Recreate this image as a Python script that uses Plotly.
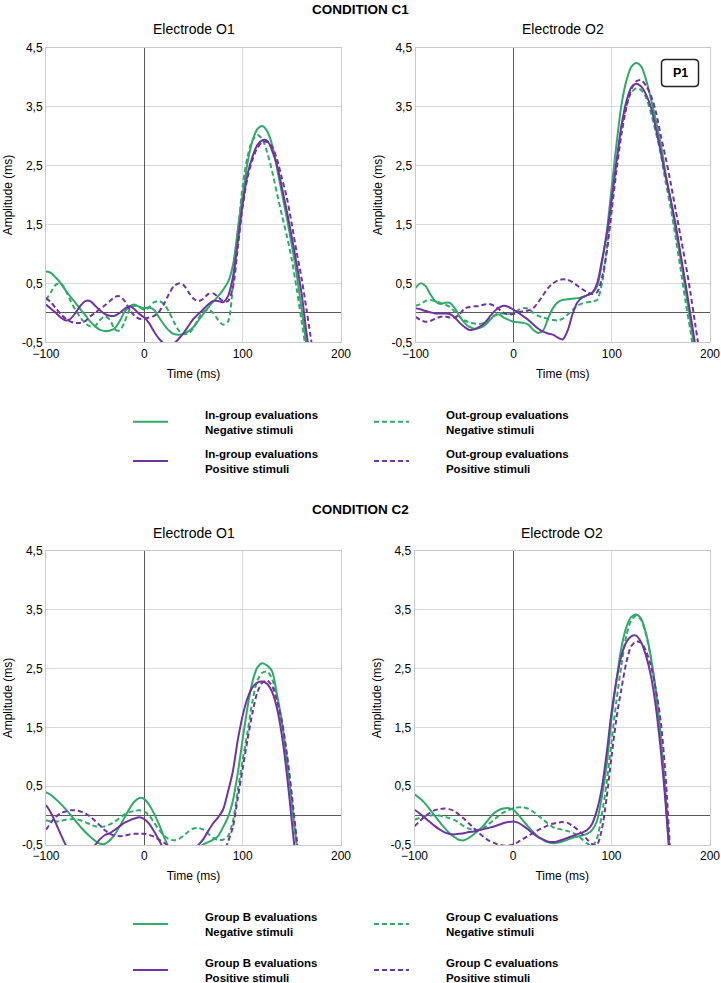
import plotly.graph_objects as go

# ---------------- data ----------------
T_C1_O1 = list(range(-100, 175, 5))
T_C1_O2 = list(range(-100, 195, 5))
T_C2_O1 = list(range(-100, 165, 5))
T_C2_O2 = list(range(-100, 170, 5))

C1_O1_in_neg = [0.70, 0.68, 0.60, 0.50, 0.38, 0.27, 0.17, 0.06, -0.04, -0.15,
                -0.23, -0.29, -0.31, -0.30, -0.26, -0.14, 0.02, 0.11, 0.14, 0.10,
                0.08, 0.09, 0.05, -0.08, -0.20, -0.30, -0.36, -0.37, -0.36, -0.31,
                -0.24, -0.13, -0.02, 0.09, 0.19, 0.28, 0.39, 0.52, 0.80, 1.40,
                2.00, 2.55, 2.92, 3.12, 3.17, 3.08, 2.85, 2.45, 2.02, 1.60,
                1.15, 0.65, 0.05, -0.55, -1.10]
C1_O1_out_neg = [0.22, 0.35, 0.48, 0.50, 0.38, 0.20, 0.05, -0.08, -0.18, -0.23,
                 -0.22, -0.12, -0.06, -0.12, -0.28, -0.30, -0.15, 0.05, 0.12, 0.10,
                 0.05, 0.10, 0.18, 0.20, 0.15, 0.02, -0.15, -0.30, -0.36, -0.35,
                 -0.25, -0.10, 0.02, 0.05, 0.00, -0.12, -0.20, -0.15, 0.45, 1.35,
                 2.15, 2.65, 2.93, 3.02, 2.95, 2.72, 2.40, 2.02, 1.65, 1.30,
                 0.90, 0.40, -0.15, -0.70, -1.20]
C1_O1_in_pos = [0.14, 0.07, 0.00, -0.08, -0.13, -0.10, 0.00, 0.12, 0.20, 0.20,
                0.12, 0.04, -0.02, -0.05, -0.05, 0.00, 0.07, 0.11, 0.06, -0.02,
                -0.08, -0.18, -0.32, -0.44, -0.52, -0.55, -0.52, -0.44, -0.34, -0.22,
                -0.10, -0.02, 0.06, 0.14, 0.20, 0.20, 0.18, 0.28, 0.60, 1.20,
                1.85, 2.35, 2.65, 2.85, 2.93, 2.92, 2.75, 2.50, 2.12, 1.72,
                1.28, 0.82, 0.32, -0.35, -0.90]
C1_O1_out_pos = [0.25, 0.18, 0.08, -0.02, -0.10, -0.15, -0.17, -0.17, -0.14, -0.06,
                 0.00, 0.07, 0.13, 0.20, 0.27, 0.28, 0.20, 0.06, -0.05, -0.10,
                 -0.10, -0.08, -0.05, 0.02, 0.15, 0.32, 0.45, 0.50, 0.47, 0.35,
                 0.24, 0.20, 0.24, 0.32, 0.33, 0.27, 0.20, 0.20, 0.42, 1.10,
                 1.80, 2.30, 2.60, 2.80, 2.90, 2.90, 2.82, 2.60, 2.28, 1.95,
                 1.50, 1.02, 0.58, 0.05, -0.50]

C1_O2_in_neg = [0.42, 0.50, 0.46, 0.32, 0.20, 0.15, 0.17, 0.17, 0.08, -0.06,
                -0.17, -0.24, -0.27, -0.26, -0.22, -0.14, -0.05, -0.03, -0.08, -0.12,
                -0.15, -0.16, -0.17, -0.20, -0.29, -0.34, -0.30, -0.10, 0.08, 0.18,
                0.22, 0.23, 0.24, 0.25, 0.27, 0.30, 0.34, 0.45, 0.85, 1.40,
                2.15, 2.90, 3.55, 3.95, 4.18, 4.24, 4.18, 3.95, 3.62, 3.25,
                2.85, 2.35, 1.90, 1.40, 0.92, 0.40, -0.15, -0.70, -1.25]
C1_O2_out_neg = [0.12, 0.15, 0.20, 0.22, 0.20, 0.17, 0.14, 0.10, 0.02, -0.07,
                 -0.13, -0.16, -0.18, -0.19, -0.17, -0.12, -0.05, -0.01, -0.01, -0.02,
                 0.00, 0.05, 0.08, 0.07, 0.00, -0.05, -0.08, -0.10, -0.12, -0.13,
                 -0.10, -0.03, 0.05, 0.12, 0.16, 0.18, 0.19, 0.22, 0.50, 1.10,
                 1.90, 2.60, 3.15, 3.52, 3.74, 3.81, 3.78, 3.65, 3.38, 3.05,
                 2.68, 2.20, 1.78, 1.28, 0.75, 0.20, -0.30, -0.85, -1.40]
C1_O2_in_pos = [0.08, 0.06, 0.03, 0.01, -0.01, -0.01, -0.01, -0.02, -0.08, -0.17,
                -0.24, -0.29, -0.28, -0.24, -0.18, -0.08, 0.02, 0.09, 0.12, 0.10,
                0.05, 0.00, -0.06, -0.12, -0.20, -0.27, -0.32, -0.35, -0.37, -0.42,
                -0.45, -0.30, -0.02, 0.18, 0.26, 0.30, 0.34, 0.50, 0.90, 1.35,
                1.95, 2.60, 3.20, 3.60, 3.83, 3.89, 3.84, 3.70, 3.48, 3.12,
                2.72, 2.30, 1.92, 1.50, 1.00, 0.50, -0.02, -0.55, -1.10]
C1_O2_out_pos = [-0.07, -0.12, -0.15, -0.14, -0.10, -0.07, -0.06, -0.08, -0.08, -0.02,
                 0.07, 0.10, 0.11, 0.12, 0.14, 0.15, 0.12, 0.06, 0.00, -0.03,
                 -0.02, 0.01, 0.03, 0.04, 0.08, 0.18, 0.30, 0.42, 0.50, 0.55,
                 0.57, 0.56, 0.52, 0.46, 0.40, 0.35, 0.32, 0.35, 0.60, 1.05,
                 1.75, 2.45, 3.05, 3.50, 3.80, 3.93, 3.95, 3.85, 3.68, 3.40,
                 3.00, 2.62, 2.20, 1.75, 1.30, 0.85, 0.35, -0.20, -0.75]

C2_O1_in_neg = [0.40, 0.35, 0.28, 0.20, 0.11, 0.01, -0.09, -0.19, -0.28, -0.36,
                -0.43, -0.48, -0.48, -0.42, -0.32, -0.18, -0.03, 0.12, 0.24, 0.30,
                0.28, 0.18, 0.03, -0.15, -0.36, -0.55, -0.68, -0.75, -0.77, -0.74,
                -0.66, -0.56, -0.49, -0.45, -0.41, -0.35, -0.20, -0.03, 0.25, 0.72,
                1.30, 1.85, 2.28, 2.52, 2.59, 2.55, 2.45, 2.05, 1.58, 0.95,
                0.20, -0.50, -1.20]
C2_O1_out_neg = [-0.08, -0.10, -0.10, -0.09, -0.07, -0.06, -0.06, -0.08, -0.11, -0.15,
                 -0.18, -0.19, -0.18, -0.15, -0.10, -0.04, 0.02, 0.06, 0.08, 0.09,
                 0.07, 0.00, -0.12, -0.24, -0.34, -0.40, -0.42, -0.40, -0.34, -0.27,
                 -0.22, -0.21, -0.24, -0.31, -0.38, -0.41, -0.41, -0.35, -0.10, 0.42,
                 0.95, 1.42, 1.95, 2.30, 2.43, 2.45, 2.32, 2.00, 1.55, 1.00,
                 0.30, -0.55, -1.30]
C2_O1_in_pos = [0.18, 0.05, -0.13, -0.32, -0.50, -0.65, -0.75, -0.78, -0.74, -0.64,
                -0.50, -0.40, -0.33, -0.30, -0.24, -0.18, -0.12, -0.08, -0.05, -0.03,
                -0.06, -0.14, -0.27, -0.42, -0.58, -0.70, -0.78, -0.80, -0.76, -0.68,
                -0.58, -0.50, -0.40, -0.26, -0.13, -0.03, 0.10, 0.40, 0.75, 1.28,
                1.70, 2.00, 2.18, 2.26, 2.28, 2.24, 2.10, 1.82, 1.35, 0.70,
                -0.10, -0.90, -1.60]
C2_O1_out_pos = [-0.24, -0.12, -0.02, 0.04, 0.07, 0.09, 0.09, 0.07, 0.04, -0.02,
                 -0.09, -0.17, -0.25, -0.31, -0.34, -0.35, -0.34, -0.32, -0.31, -0.31,
                 -0.31, -0.33, -0.36, -0.41, -0.46, -0.52, -0.58, -0.62, -0.65, -0.66,
                 -0.66, -0.66, -0.67, -0.70, -0.72, -0.72, -0.68, -0.45, -0.20, 0.30,
                 0.80, 1.30, 1.75, 2.10, 2.26, 2.30, 2.20, 1.95, 1.60, 1.05,
                 0.35, -0.40, -1.10]

C2_O2_in_neg = [0.36, 0.30, 0.22, 0.12, 0.01, -0.10, -0.20, -0.29, -0.36, -0.41,
                -0.42, -0.38, -0.32, -0.25, -0.17, -0.07, 0.03, 0.09, 0.12, 0.13,
                0.10, 0.02, -0.08, -0.18, -0.27, -0.35, -0.41, -0.45, -0.47, -0.46,
                -0.44, -0.41, -0.38, -0.36, -0.34, -0.31, -0.25, -0.10, 0.30, 0.85,
                1.65, 2.30, 2.85, 3.20, 3.38, 3.42, 3.35, 3.10, 2.70, 2.10,
                1.30, 0.25, -0.90, -1.80]
C2_O2_out_neg = [-0.07, -0.04, -0.01, 0.00, 0.01, 0.00, -0.02, -0.04, -0.07, -0.12,
                 -0.18, -0.22, -0.24, -0.24, -0.21, -0.15, -0.08, -0.01, 0.05, 0.09,
                 0.12, 0.14, 0.14, 0.12, 0.07, 0.01, -0.06, -0.13, -0.19, -0.22,
                 -0.24, -0.26, -0.29, -0.33, -0.40, -0.47, -0.52, -0.40, 0.00, 0.55,
                 1.25, 1.95, 2.55, 3.05, 3.32, 3.40, 3.33, 3.08, 2.68, 2.12,
                 1.35, 0.35, -0.80, -1.70]
C2_O2_in_pos = [0.10, 0.04, -0.03, -0.10, -0.17, -0.23, -0.28, -0.31, -0.32, -0.31,
                -0.30, -0.28, -0.27, -0.25, -0.23, -0.21, -0.19, -0.16, -0.13, -0.11,
                -0.10, -0.12, -0.17, -0.23, -0.30, -0.36, -0.40, -0.44, -0.45, -0.44,
                -0.41, -0.38, -0.35, -0.32, -0.29, -0.25, -0.15, 0.08, 0.45, 1.05,
                1.75, 2.30, 2.72, 2.95, 3.05, 3.06, 2.95, 2.72, 2.38, 1.85,
                1.12, 0.20, -0.90, -1.80]
C2_O2_out_pos = [-0.18, -0.10, -0.02, 0.04, 0.09, 0.11, 0.12, 0.11, 0.08, 0.02,
                 -0.05, -0.13, -0.21, -0.29, -0.36, -0.42, -0.46, -0.49, -0.51, -0.51,
                 -0.49, -0.45, -0.40, -0.35, -0.30, -0.25, -0.21, -0.17, -0.14, -0.12,
                 -0.11, -0.12, -0.17, -0.23, -0.31, -0.40, -0.48, -0.50, -0.25, 0.30,
                 1.00, 1.65, 2.15, 2.60, 2.88, 2.96, 2.94, 2.80, 2.55, 2.15,
                 1.60, 0.65, -0.70, -1.60]

NAMES_C1 = [("In-group evaluations", "Negative stimuli"),
            ("Out-group evaluations", "Negative stimuli"),
            ("In-group evaluations", "Positive stimuli"),
            ("Out-group evaluations", "Positive stimuli")]
NAMES_C2 = [("Group B evaluations", "Negative stimuli"),
            ("Group C evaluations", "Negative stimuli"),
            ("Group B evaluations", "Positive stimuli"),
            ("Group C evaluations", "Positive stimuli")]

X_TICKS = [-100, 0, 100, 200]
Y_TICKS = [-0.5, 0.5, 1.5, 2.5, 3.5, 4.5]
Y_TICK_LABELS = ["-0,5", "0,5", "1,5", "2,5", "3,5", "4,5"]

# ---------------- style ----------------
W, H = 721, 983
GREEN = "#2eab66"
PURPLE = "#7133a3"
FONT = "Arial, Liberation Sans, sans-serif"
STYLES = [(GREEN, "solid"), (GREEN, "5px,3px"), (PURPLE, "solid"), (PURPLE, "5px,3px")]
PAD = "&nbsp;" * 10


def px_x(p):
    return p / W


def px_y(p):
    return 1 - p / H


def legend_label(pair):
    return "<b>" + PAD + pair[0] + "<br>" + PAD + pair[1] + "</b>"


# panel boxes in pixels: (left, right, top, bottom)
BOXES = [(46, 341, 47.7, 342.3), (415.5, 710, 47.7, 342.3),
         (46, 341, 551, 845), (414.5, 710, 551, 845)]

panels = [
    (T_C1_O1, [C1_O1_in_neg, C1_O1_out_neg, C1_O1_in_pos, C1_O1_out_pos], NAMES_C1, True),
    (T_C1_O2, [C1_O2_in_neg, C1_O2_out_neg, C1_O2_in_pos, C1_O2_out_pos], NAMES_C1, False),
    (T_C2_O1, [C2_O1_in_neg, C2_O1_out_neg, C2_O1_in_pos, C2_O1_out_pos], NAMES_C2, True),
    (T_C2_O2, [C2_O2_in_neg, C2_O2_out_neg, C2_O2_in_pos, C2_O2_out_pos], NAMES_C2, False),
]

fig = go.Figure()
for i, (t, series, names, show) in enumerate(panels):
    sfx = "" if i == 0 else str(i + 1)
    top_row = i < 2
    for j, (vals, name) in enumerate(zip(series, names)):
        color, dash = STYLES[j]
        if top_row:
            leg = "legend" if j < 2 else "legend2"
        else:
            leg = "legend3" if j < 2 else "legend4"
        fig.add_trace(go.Scatter(
            x=t, y=vals, mode="lines", name=legend_label(name),
            line=dict(color=color, width=2, dash=dash, shape="spline", smoothing=0.8),
            xaxis="x" + sfx, yaxis="y" + sfx, showlegend=show, legend=leg,
            hoverinfo="skip"))

layout = dict(width=W, height=H,
              margin=dict(l=0, r=0, t=0, b=0, pad=0, autoexpand=False),
              paper_bgcolor="white", plot_bgcolor="white",
              font=dict(family=FONT, color="#000000", size=12))

for i, (l, r, tp, bt) in enumerate(BOXES):
    sfx = "" if i == 0 else str(i + 1)
    layout["xaxis" + sfx] = dict(
        domain=[px_x(l), px_x(r)], anchor="y" + sfx, range=[-100, 200],
        tickvals=X_TICKS, showgrid=True, gridcolor="#d9d9d9", gridwidth=1,
        zeroline=True, zerolinecolor="#5a5a5a", zerolinewidth=1,
        showline=True, linecolor="#c8c8c8", linewidth=1, mirror=True,
        ticks="", tickfont=dict(size=12), automargin=False,
        title=dict(text="Time (ms)", font=dict(size=12), standoff=9))
    layout["yaxis" + sfx] = dict(
        domain=[px_y(bt), px_y(tp)], anchor="x" + sfx, range=[-0.5, 4.5],
        tickvals=Y_TICKS, ticktext=Y_TICK_LABELS,
        showgrid=True, gridcolor="#d9d9d9", gridwidth=1,
        zeroline=True, zerolinecolor="#5a5a5a", zerolinewidth=1,
        showline=True, linecolor="#c8c8c8", linewidth=1, mirror=True,
        ticks="", tickfont=dict(size=12), automargin=False,
        title=dict(text="Amplitude (ms)", font=dict(size=12), standoff=6))

leg_common = dict(orientation="h", xref="container", yref="container",
                  xanchor="left", yanchor="middle", entrywidth=191,
                  entrywidthmode="pixels", valign="middle",
                  bgcolor="rgba(0,0,0,0)", font=dict(size=11.5, family=FONT),
                  itemwidth=35, tracegroupgap=0)
for key, ypx in [("legend", 421.7), ("legend2", 461), ("legend3", 924), ("legend4", 970)]:
    layout[key] = dict(leg_common, x=px_x(128), y=px_y(ypx))

annotations = []
for text, xc, yc in [("CONDITION C1", 360, 10), ("CONDITION C2", 360, 509)]:
    annotations.append(dict(text="<b>" + text + "</b>", x=px_x(xc), y=px_y(yc),
                            xref="paper", yref="paper", showarrow=False,
                            xanchor="center", yanchor="middle",
                            font=dict(size=13.5, family=FONT)))
for text, xc, yc in [("Electrode O1", 193.5, 29), ("Electrode O2", 563, 29),
                     ("Electrode O1", 193.5, 533), ("Electrode O2", 562, 533)]:
    annotations.append(dict(text=text, x=px_x(xc), y=px_y(yc),
                            xref="paper", yref="paper", showarrow=False,
                            xanchor="center", yanchor="middle",
                            font=dict(size=14, family=FONT)))
annotations.append(dict(text="<b>P1</b>", x=px_x(680), y=px_y(73), xref="paper",
                        yref="paper", showarrow=False, xanchor="center",
                        yanchor="middle", font=dict(size=12.5, family=FONT)))
layout["annotations"] = annotations

# rounded box around P1
x0, x1, y0, y1, rr = 661.5, 698.5, 59.5, 86.5, 4
pts = [
    f"M {px_x(x0 + rr)} {px_y(y0)}",
    f"L {px_x(x1 - rr)} {px_y(y0)}",
    f"Q {px_x(x1)} {px_y(y0)} {px_x(x1)} {px_y(y0 + rr)}",
    f"L {px_x(x1)} {px_y(y1 - rr)}",
    f"Q {px_x(x1)} {px_y(y1)} {px_x(x1 - rr)} {px_y(y1)}",
    f"L {px_x(x0 + rr)} {px_y(y1)}",
    f"Q {px_x(x0)} {px_y(y1)} {px_x(x0)} {px_y(y1 - rr)}",
    f"L {px_x(x0)} {px_y(y0 + rr)}",
    f"Q {px_x(x0)} {px_y(y0)} {px_x(x0 + rr)} {px_y(y0)} Z",
]
layout["shapes"] = [dict(type="path", path=" ".join(pts), xref="paper", yref="paper",
                         line=dict(color="#222222", width=1.5), fillcolor="white",
                         layer="below")]

fig.update_layout(**layout)
fig.write_html("out.html",
               config={"displayModeBar": False, "staticPlot": True},
               post_script="document.body.style.margin='0';"
                           "document.body.style.padding='0';"
                           "document.documentElement.style.overflow='hidden';")
